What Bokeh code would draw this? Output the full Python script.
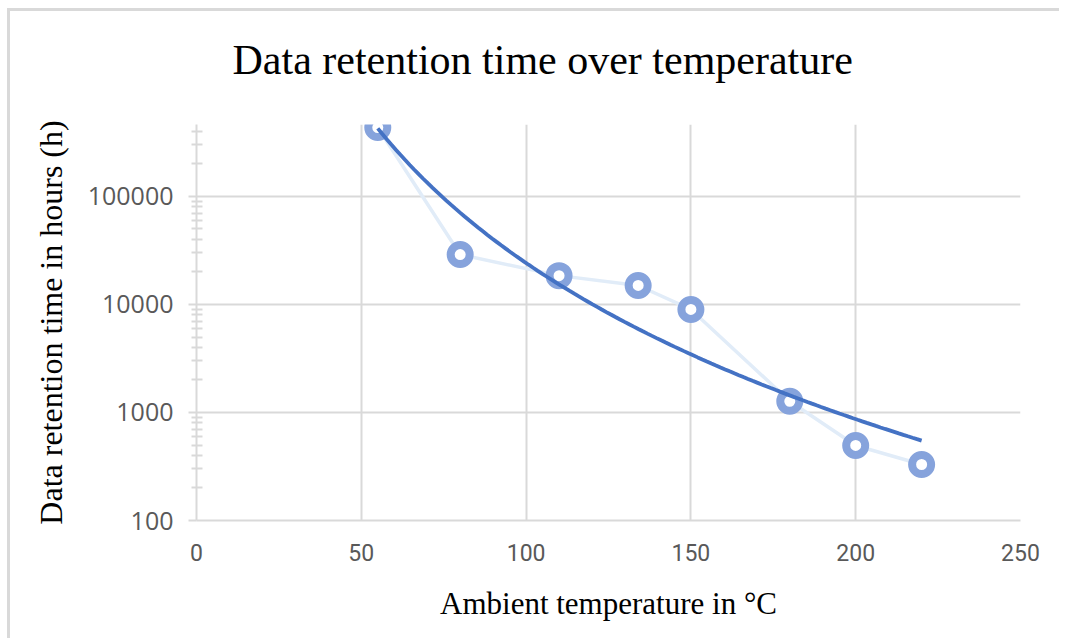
import numpy as np
from bokeh.plotting import figure
from bokeh.models import FixedTicker, NumeralTickFormatter, Range1d, ColumnDataSource, Title
from bokeh.embed import file_html
from bokeh.resources import INLINE

# ---- data ----
temperature_c = [55, 80, 110, 134, 150, 180, 200, 220]
retention_h = [435000, 29000, 18500, 15000, 9000, 1270, 495, 330]
x_ticks = [0, 50, 100, 150, 200, 250]
y_ticks = [100, 1000, 10000, 100000]
title_text = "Data retention time over temperature"

# Power trendline fitted to the data (as the spreadsheet's power trendline)
b_exp, ln_a = np.polyfit(np.log(temperature_c), np.log(retention_h), 1)
trend_x = np.linspace(min(temperature_c), max(temperature_c), 120)
trend_y = np.exp(ln_a) * trend_x ** b_exp

Y_MIN, Y_MAX = 100, 464000
minor_ticks = [m * t for t in y_ticks for m in range(2, 10) if m * t < Y_MAX]

p = figure(
    width=1052, height=630,
    x_range=Range1d(0, 250), y_range=Range1d(Y_MIN, Y_MAX),
    y_axis_type="log",
    output_backend="svg", toolbar_location=None,
    min_border_left=186, min_border_right=42,
    min_border_top=113, min_border_bottom=121,
    styles={"border-top": "3px solid #d9d9d9", "border-left": "3px solid #d9d9d9",
            "margin-top": "8px", "margin-left": "7px"},
)
p.outline_line_color = None
p.background_fill_color = "white"
p.border_fill_color = "white"
p.title.text = ""

# spacer between the frame and the title, then the title itself
p.add_layout(Title(text=" ", text_font_size="1px", standoff=17), "above")
p.add_layout(Title(text=title_text, align="left", offset=36, standoff=44,
                   text_font="Liberation Serif", text_font_size="42px",
                   text_font_style="normal", text_color="#000000"), "above")

# grids
p.xgrid.ticker = FixedTicker(ticks=x_ticks)
p.ygrid.ticker = FixedTicker(ticks=y_ticks)
for g in (p.xgrid, p.ygrid):
    g.grid_line_color = "#d9d9d9"
    g.grid_line_width = 2

# x axis
xa = p.xaxis[0]
xa.ticker = FixedTicker(ticks=x_ticks)
xa.major_tick_out = 0
xa.major_tick_in = 0
xa.minor_tick_out = 0
xa.minor_tick_in = 0
xa.axis_line_color = "#d9d9d9"
xa.axis_line_width = 2
xa.major_label_text_font = "Roboto"
xa.major_label_text_font_size = "23px"
xa.major_label_text_color = "#595959"
xa.major_label_standoff = 23
xa.axis_label = "Ambient temperature in °C"
xa.axis_label_text_font = "Liberation Serif"
xa.axis_label_text_font_size = "31px"
xa.axis_label_text_font_style = "normal"
xa.axis_label_text_color = "#000000"
xa.axis_label_standoff = 22

# y axis
ya = p.yaxis[0]
ya.ticker = FixedTicker(ticks=y_ticks, minor_ticks=minor_ticks)
ya.formatter = NumeralTickFormatter(format="0")
ya.major_tick_out = 8
ya.major_tick_in = 0
ya.minor_tick_out = 5
ya.minor_tick_in = 6
ya.major_tick_line_color = "#d9d9d9"
ya.minor_tick_line_color = "#d9d9d9"
ya.major_tick_line_width = 2
ya.minor_tick_line_width = 2
ya.axis_line_color = "#d9d9d9"
ya.axis_line_width = 2
ya.major_label_text_font = "Open Sans"
ya.major_label_text_font_size = "25px"
ya.major_label_text_color = "#595959"
ya.major_label_standoff = 15
ya.axis_label = "Data retention time in hours (h)"
ya.axis_label_text_font = "Liberation Serif"
ya.axis_label_text_font_size = "32px"
ya.axis_label_text_font_style = "normal"
ya.axis_label_text_color = "#000000"
ya.axis_label_standoff = 16

src = ColumnDataSource(dict(x=temperature_c, y=retention_h))
p.line("x", "y", source=src, line_color="#e1ecf8", line_width=3.5)
p.scatter("x", "y", source=src, size=19, marker="circle",
          fill_color="white", line_color="#86a3dc", line_width=8)
p.line(trend_x, trend_y, line_color="#4472c4", line_width=3.8)

open("out.html", "w").write(file_html(p, INLINE))
